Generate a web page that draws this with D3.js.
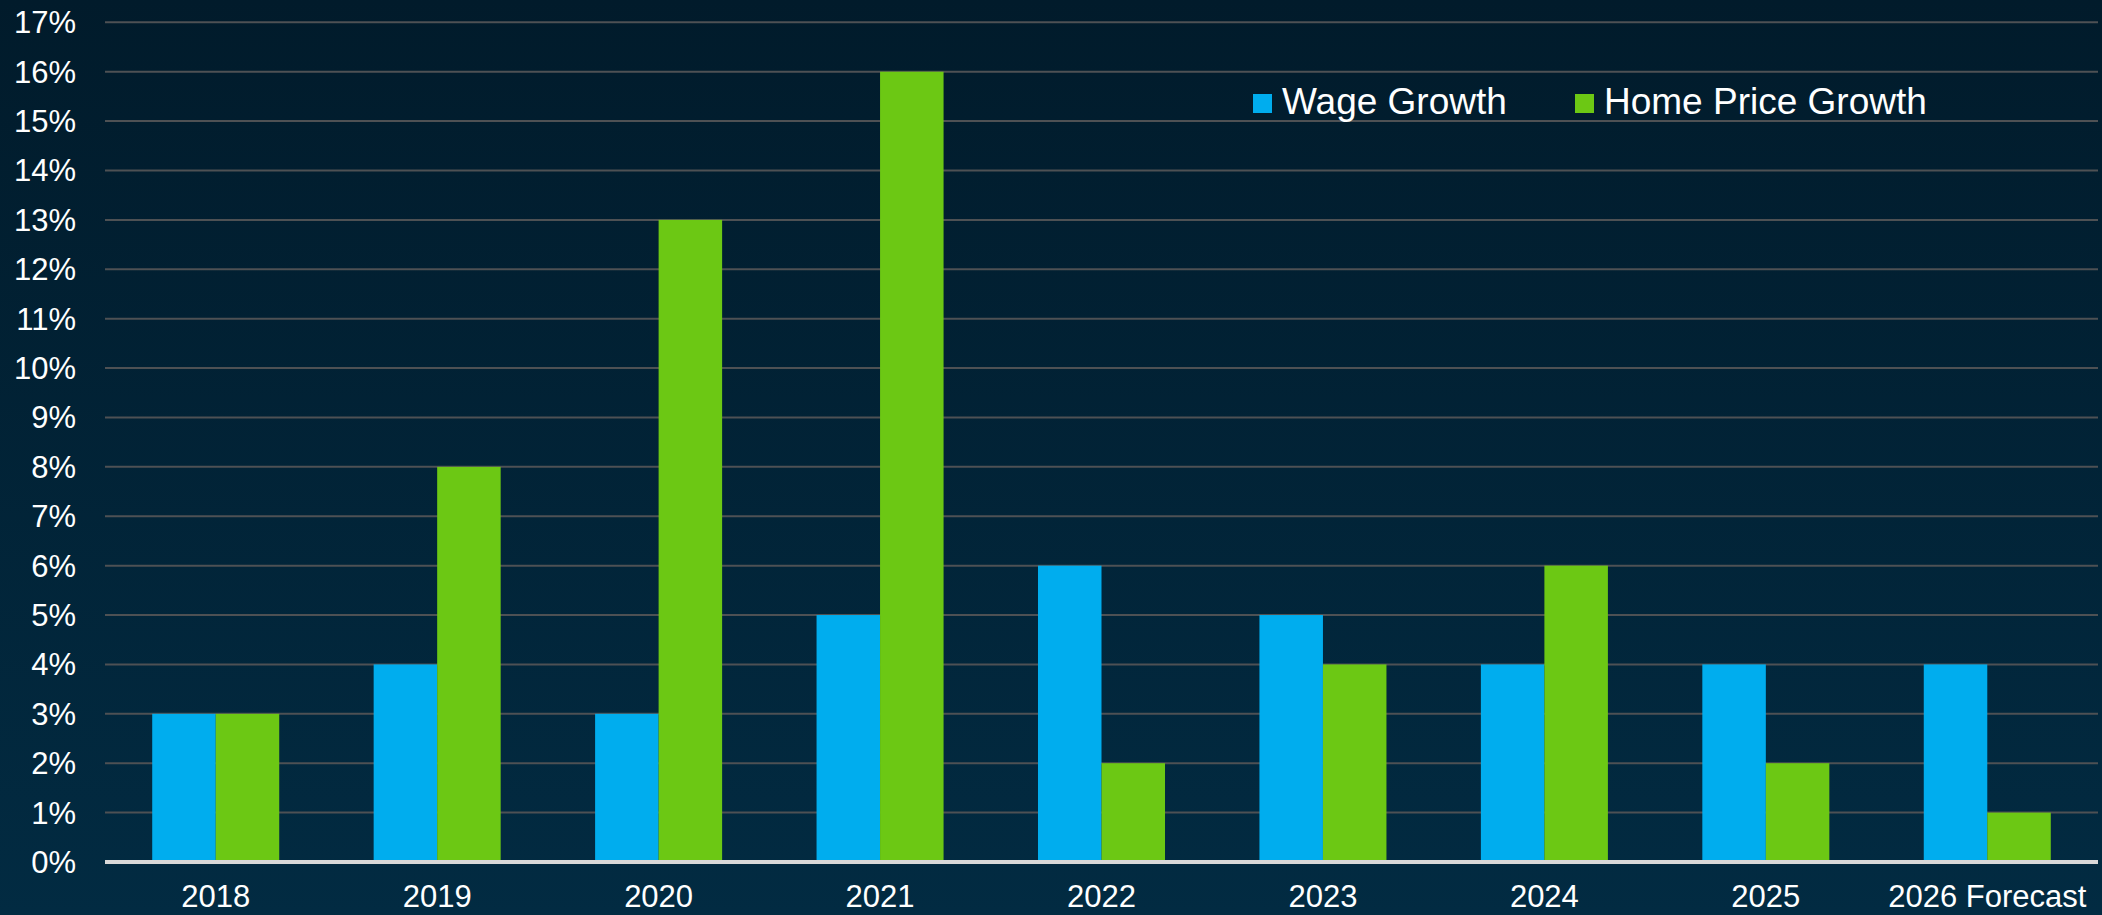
<!DOCTYPE html>
<html>
<head>
<meta charset="utf-8">
<script src="https://cdn.jsdelivr.net/npm/d3@7"></script>
<style>
  html, body { margin: 0; padding: 0; overflow: hidden; background: #01202f; }
  svg { display: block; }
  text { font-family: "Liberation Sans", Arial, sans-serif; fill: #ffffff; }
</style>
</head>
<body>
<svg id="chart" width="2102" height="915"></svg>
<script>
const categories = ["2018", "2019", "2020", "2021", "2022", "2023", "2024", "2025", "2026 Forecast"];
const wageGrowth = [3, 4, 3, 5, 6, 5, 4, 4, 4];
const homePriceGrowth = [3, 8, 13, 16, 2, 4, 6, 2, 1];
const seriesNames = ["Wage Growth", "Home Price Growth"];
const seriesColors = ["#00adee", "#6cc814"];
const yTicks = d3.range(0, 18);

(function () {
const W = 2102, H = 915;
const svg = d3.select("#chart");

const defs = svg.append("defs");
const grad = defs.append("linearGradient").attr("id", "bg").attr("x1", 0).attr("y1", 0).attr("x2", 0).attr("y2", 1);
grad.append("stop").attr("offset", "0%").attr("stop-color", "#011b2b");
grad.append("stop").attr("offset", "100%").attr("stop-color", "#022b42");
svg.append("rect").attr("width", W).attr("height", H).attr("fill", "url(#bg)");

const plotLeft = 105, plotRight = 2098, plotTop = 22.3, plotBottom = 862;

const x = d3.scaleBand().domain(categories).range([plotLeft, plotRight]).paddingInner(0.4264).paddingOuter(0.2132);
const xs = d3.scaleBand().domain(seriesNames).range([0, x.bandwidth()]).padding(0);
const y = d3.scaleLinear().domain([0, 17]).range([plotBottom, plotTop]);

// gridlines
svg.append("g").selectAll("line").data(yTicks.filter(d => d > 0)).join("line")
  .attr("x1", plotLeft).attr("x2", plotRight)
  .attr("y1", d => y(d)).attr("y2", d => y(d))
  .attr("stroke", "#4e5154").attr("stroke-width", 2);

// y labels
svg.append("g").selectAll("text").data(yTicks).join("text")
  .attr("x", 76).attr("y", d => y(d) + 11)
  .attr("text-anchor", "end")
  .attr("font-size", 31)
  .text(d => d + "%");

// bars
const data = categories.map((c, i) => ({ cat: c, values: [wageGrowth[i], homePriceGrowth[i]] }));
const groups = svg.append("g").selectAll("g").data(data).join("g")
  .attr("transform", d => `translate(${x(d.cat)},0)`);
groups.selectAll("rect").data(d => d.values.map((v, j) => ({ name: seriesNames[j], v, j }))).join("rect")
  .attr("x", d => xs(d.name))
  .attr("width", xs.bandwidth())
  .attr("y", d => y(d.v))
  .attr("height", d => y(0) - y(d.v))
  .attr("fill", d => seriesColors[d.j]);

// x axis line
svg.append("line").attr("x1", plotLeft).attr("x2", plotRight)
  .attr("y1", y(0)).attr("y2", y(0))
  .attr("stroke", "#d9d9d9").attr("stroke-width", 4);

// x labels
svg.append("g").selectAll("text").data(categories).join("text")
  .attr("x", d => x(d) + x.bandwidth() / 2)
  .attr("y", 907)
  .attr("text-anchor", "middle")
  .attr("font-size", 31)
  .text(d => d);

// legend
const legendX = [1253, 1575];
const lg = svg.append("g").selectAll("g").data(seriesNames).join("g")
  .attr("transform", (d, i) => `translate(${legendX[i]},94)`);
lg.append("rect").attr("width", 19).attr("height", 19).attr("fill", (d, i) => seriesColors[i]);
lg.append("text").attr("x", 29).attr("y", 20).attr("font-size", 37).text(d => d);
})();
</script>
</body>
</html>
